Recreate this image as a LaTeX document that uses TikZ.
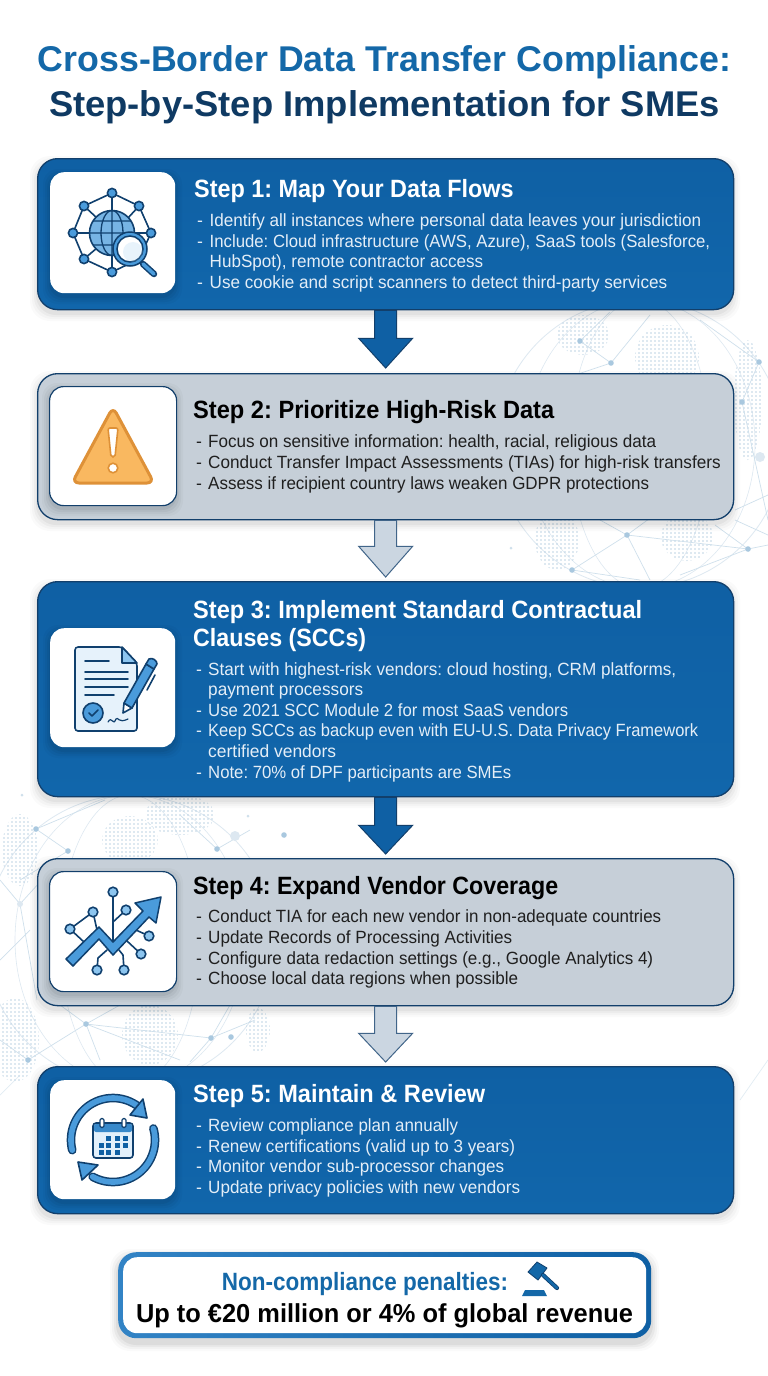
\documentclass[tikz,border=0pt]{standalone}
\usepackage{graphicx}
\usepackage{fontspec}
\setmainfont{Liberation Sans}
\frenchspacing
\usetikzlibrary{calc}
\definecolor{navy}{HTML}{123F6B}
\definecolor{blueP}{HTML}{0F60A4}
\definecolor{blueQ}{HTML}{1166AB}
\definecolor{greyP}{HTML}{C6CFD8}
\definecolor{greyA}{HTML}{CBD6E1}
\definecolor{titleA}{HTML}{1468A8}
\definecolor{titleB}{HTML}{0F3A63}
\definecolor{bodyL}{HTML}{E4EEF7}
\definecolor{iconB}{HTML}{4A9BDB}
\definecolor{iconL}{HTML}{8CC5EF}
\definecolor{iconD}{HTML}{10406E}
\definecolor{bgL}{HTML}{DDE8F1}
\definecolor{bgD}{HTML}{BDD3E4}
\definecolor{bgM}{HTML}{CFE0EC}
\definecolor{bgN}{HTML}{A9C8DF}
\definecolor{warnF}{HTML}{F9B860}
\definecolor{warnD}{HTML}{DE9138}
\tikzset{
  panelblue/.style={draw=navy,line width=1.3pt,rounded corners=20pt,top color=blueP,bottom color=blueQ,inner sep=0pt,anchor=north west},
  panelgrey/.style={draw=navy,line width=1.3pt,rounded corners=20pt,fill=greyP,inner sep=0pt,anchor=north west},
  iconbox/.style={fill=white,rounded corners=14pt,inner sep=0pt,anchor=north west},
  headw/.style={anchor=base west,inner sep=0pt,text=white,font=\fontsize{25}{30}\selectfont\bfseries},
  headk/.style={anchor=base west,inner sep=0pt,text=black,font=\fontsize{25}{30}\selectfont\bfseries},
  bodyw/.style={anchor=base west,inner sep=0pt,text=bodyL,font=\fontsize{17.7}{20}\selectfont},
  bodyk/.style={anchor=base west,inner sep=0pt,text=black!88,font=\fontsize{17.7}{20}\selectfont},
  arrowblue/.style={draw=navy,line width=1pt,fill=blueP,line join=miter},
  arrowgrey/.style={draw=navy!80,line width=1pt,fill=greyA,line join=miter},
  netline/.style={draw=bgM,line width=.7pt},
  ico/.style={draw=iconD,line width=1.6pt,line join=round,line cap=round},
}
\newcommand{\fitw}[2]{\resizebox{#1pt}{\height}{#2}}
\newcommand{\softshadow}[4]{%
  \foreach \s/\o in {7/.02,5/.025,3/.03,1/.04}{
    \fill[black,opacity=\o,rounded corners=20pt] (#1-\s,#2-\s+5) rectangle ++(#3+2*\s,#4+2*\s);
  }}
\newcommand{\dotpatch}[4]{%
  \begin{scope}
    \clip (#1,#2) ellipse [x radius=#3,y radius=#4];
    \pgfmathtruncatemacro{\nx}{#3/4+1}
    \pgfmathtruncatemacro{\ny}{#4/4+1}
    \foreach \i in {-\nx,...,\nx}{\foreach \j in {-\ny,...,\ny}{
      \fill[bgD] ({#1+\i*4},{#2+\j*4}) circle (.85);
    }}
  \end{scope}}
\newcommand{\netnode}[2]{\fill[bgN] (#1,#2) circle (2.8);}
\newcommand{\arcplot}[3]{%
  plot[domain=#1:#2,samples=40] ({113+#3*cos(\x)},{1140-#3*sin(\x)})}
\begin{document}
\begin{tikzpicture}[x=1pt,y=-1pt]
\useasboundingbox (0,0) rectangle (768,1376);
\fill[white] (0,0) rectangle (768,1376);
% background globes
\begin{scope}
  \clip (0,0) rectangle (768,1376);
  \draw[bgL,line width=.8pt] (640,444) circle (144);
  \draw[bgL,line width=.6pt] (640,444) ellipse [x radius=70,y radius=144];
  \draw[bgL,line width=.6pt] (640,444) ellipse [x radius=115,y radius=144];
  \dotpatch{667}{357}{32}{32}
  \dotpatch{583}{335}{26}{20}
  \dotpatch{748}{400}{14}{60}
  \dotpatch{687}{537}{26}{24}
  \dotpatch{557}{540}{22}{30}
  \draw[netline] (580,341)--(611,363)--(530,390) (611,363)--(650,315) (759,362)--(742,402)--(768,520)
     (580,341)--(610,312) (759,362)--(700,320) (627,535)--(572,570)--(640,580) (627,535)--(748,549)--(768,545)
     (627,535)--(650,580) (627,535)--(600,520) (627,535)--(668,505) (748,549)--(680,575) (735,510)--(768,495) (735,520)--(768,535) (748,549)--(715,525);
  \foreach \x/\y in {580/341,611/363,759/362,742/402,627/535,748/549,572/570}{\netnode{\x}{\y}}
  \fill[bgL] (760,457) circle (5);
  \fill[bgM] (511,548) circle (1.5);

  \draw[bgL,line width=.8pt] (130,940) circle (145);
  \draw[bgL,line width=.6pt] (130,940) ellipse [x radius=70,y radius=145];
  \draw[bgL,line width=.6pt] (130,940) ellipse [x radius=115,y radius=145];
  \dotpatch{130}{840}{28}{24}
  \dotpatch{20}{850}{18}{36}
  \dotpatch{180}{815}{35}{20}
  \dotpatch{150}{1035}{28}{30}
  \dotpatch{15}{1040}{24}{42}
  \dotpatch{258}{1030}{12}{22}
  \draw[netline] (36,829)--(68,851)--(20,880) (36,829)--(105,800) (217,849)--(180,815) (217,849)--(250,830)
     (20,904)--(60,860) (20,904)--(0,880) (20,904)--(37,1000) (0,960)--(30,930) (86,1024)--(28,1060)--(0,1040)
     (86,1024)--(211,1038)--(255,1020) (86,1024)--(100,1060) (86,1024)--(60,1005) (86,1024)--(120,1005)
     (211,1038)--(190,1062) (211,1038)--(230,1005) (86,1024)--(180,1060);
  \foreach \x/\y in {36/829,68/851,217/849,86/1024,211/1038,28/1060,284/835,231/1037}{\netnode{\x}{\y}}
  \fill[bgL] (20,904) circle (3); \fill[bgM] (22,795) circle (1.5); \fill[bgM] (248,816) circle (1.5);
  \fill[bgL] (235,836) circle (5);
  \draw[netline,opacity=.6] (0,1095)--(20,1075) (740,1100)--(768,1060);
\end{scope}

% title
\node[anchor=base,inner sep=0pt,text=titleA,font=\fontsize{35.8}{40}\selectfont\bfseries] (titleone) at (384.5,71) {\fitw{693}{Cross-Border Data Transfer Compliance:}};
\node[anchor=base,inner sep=0pt,text=titleB,font=\fontsize{35.8}{40}\selectfont\bfseries] (titletwo) at (384.5,116) {\fitw{671}{Step-by-Step Implementation for SMEs}};

% shadows
\softshadow{37}{158}{696}{151}
\softshadow{37}{373}{696}{146}
\softshadow{37}{581}{696}{215}
\softshadow{37}{858}{696}{147}
\softshadow{37}{1066}{696}{147}

% panels
\node[panelblue,minimum width=696pt,minimum height=151pt] (p1) at (37,158) {};
\node[panelgrey,minimum width=696pt,minimum height=146pt] (p2) at (37,373) {};
\node[panelblue,minimum width=696pt,minimum height=215pt] (p3) at (37,581) {};
\node[panelgrey,minimum width=696pt,minimum height=147pt] (p4) at (37,858) {};
\node[panelblue,minimum width=696pt,minimum height=147pt] (p5) at (37,1066) {};

% block arrows
\draw[arrowblue] ($(p1.south)+(-11,0)$) -- ++(0,28) -- ++(-16,0) -- ($(p2.north)+(0,-5)$) -- ($(p1.south)+(27,28)$) -- ++(-16,0) -- ($(p1.south)+(11,0)$) -- cycle;
\draw[arrowgrey] ($(p2.south)+(-11,0)$) -- ++(0,26) -- ++(-16,0) -- ($(p3.north)+(0,-4)$) -- ($(p2.south)+(27,26)$) -- ++(-16,0) -- ($(p2.south)+(11,0)$) -- cycle;
\draw[arrowblue] ($(p3.south)+(-11,0)$) -- ++(0,28) -- ++(-16,0) -- ($(p4.north)+(0,-4)$) -- ($(p3.south)+(27,28)$) -- ++(-16,0) -- ($(p3.south)+(11,0)$) -- cycle;
\draw[arrowgrey] ($(p4.south)+(-11,0)$) -- ++(0,27) -- ++(-16,0) -- ($(p5.north)+(0,-4)$) -- ($(p4.south)+(27,27)$) -- ++(-16,0) -- ($(p4.south)+(11,0)$) -- cycle;

% icon-box shadows
\foreach \x/\y/\w/\h in {50/172/125/121,49/386/127/119,50/628/125/119,49/871/127/120,50/1080/125/119}{
  \foreach \s/\o in {7/.025,5/.03,3/.04,1/.05}{
    \fill[black,opacity=\o,rounded corners=15pt] (\x-\s,\y-\s+4) rectangle ++(\w+2*\s,\h+2*\s);
  }}
% icon boxes
\node[iconbox,minimum width=125pt,minimum height=121pt] (b1) at (50,172) {};
\node[iconbox,draw=navy,line width=1.2pt,minimum width=127pt,minimum height=119pt] (b2) at (49,386) {};
\node[iconbox,minimum width=125pt,minimum height=119pt] (b3) at (50,628) {};
\node[iconbox,draw=navy,line width=1.2pt,minimum width=127pt,minimum height=120pt] (b4) at (49,871) {};
\node[iconbox,minimum width=125pt,minimum height=119pt] (b5) at (50,1080) {};

% icon 1: globe network
\draw[ico] (112,193)--(139,206)--(151,233)--(139,259)--(112,272)--(84,259)--(73,233)--(84,206)--cycle;
\draw[ico] (112,193)--(112,272) (73,233)--(151,233) (84,206)--(97,218) (139,206)--(128,218) (84,259)--(97,248);
\draw[ico,fill=iconB!75!white] (112,233) circle (22.5);
\draw[draw=iconD,line width=1.3pt] (112,233) ellipse [x radius=11,y radius=22.5] (112,210.5)--(112,255.5) (89.5,233)--(134.5,233) (93,221)--(131,221) (93,245)--(131,245);
\foreach \x/\y in {112/193,84/206,139/206,73/233,151/233,84/259,112/272}{\draw[ico,fill=iconB] (\x,\y) circle (4.6);}
\draw[draw=iconD,line width=6.5pt,line cap=round] (143,264)--(154,274);
\draw[draw=iconB,line width=3.5pt,line cap=round] (143,264)--(154,274);
\draw[draw=iconD,line width=1.5pt,fill=iconB] (130,249) circle (17);
\draw[draw=iconD,line width=1.5pt,fill=white] (130,249) circle (13);
\fill[iconL,opacity=.2] (133,252) circle (10);

% icon 2: warning
\draw[draw=warnD,line width=3pt,fill=warnF,line join=round,rounded corners=7pt] (113,407)--(154,483)--(72,483)--cycle;
\fill[white,draw=warnD,line width=1.6pt,rounded corners=2pt] (108,428)--(118,428)--(115,457)--(111,457)--cycle;
\draw[draw=warnD,fill=white,line width=1.6pt] (113,468) circle (4.8);

% icon 3: document + pen
\draw[ico,fill=iconL!22!white,rounded corners=3pt] (75,647) -- (122,647) -- (137,663) -- (137,731) -- (75,731) -- cycle;
\draw[ico,fill=iconL] (122,647)--(122,663)--(137,663)--cycle;
\draw[ico] (85,661)--(109,661) (85,672)--(128,672) (85,679)--(128,679) (85,687)--(128,687) (85,695)--(114,695);
\draw[ico,fill=iconB] (93,713) circle (10);
\draw[draw=iconD,line width=1.6pt,line cap=round,line join=round] (89,713)--(92,716)--(98,710);
\draw[draw=iconD,line width=1.2pt,line cap=round] (108,722) .. controls (112,715) and (113,727) .. (116,719) .. controls (118,716) and (118,724) .. (128,719);
\draw[ico,fill=white] (123,713)--(124,703)--(132,708)--cycle;
\draw[ico,fill=iconB] (124,703)--(146,664)--(154,669)--(132,708)--cycle;
\draw[ico,fill=iconB] (146,664)--(149,659) to[bend left=60] (157,664)--(154,669)--cycle;
\draw[ico] (155,675)--(147,690);

% icon 4: network growth
\draw[ico] (113,892)--(113,942) (126,910)--(113,922) (93,912)--(70,929)--(84,942) (93,912)--(97,930)
  (149,936)--(136,930) (141,954)--(127,941) (124,970)--(123,955)--(119,950) (97,970)--(98,958)--(107,950);
\draw[draw=iconD,line width=1.5pt,fill=iconB,line join=round] (66,959)--(99,927)--(113,942)--(143,911)--(135,903)--(161,897)--(156,923)--(149,917)--(113,955)--(99,939)--(73,966)--cycle;
\foreach \x/\y in {113/892,93/912,126/910,70/929,149/936,141/954,124/970,97/970}{\draw[ico,fill=iconL] (\x,\y) circle (4.8);}

% icon 5: cycle + calendar
\draw[draw=iconD,line width=8.6pt,line cap=round] \arcplot{194}{51}{42};
\draw[draw=iconD,line width=8.6pt,line cap=round] \arcplot{16}{-119}{42};
\draw[draw=iconB,line width=5.6pt,line cap=round] \arcplot{194}{51}{42};
\draw[draw=iconB,line width=5.6pt,line cap=round] \arcplot{16}{-119}{42};
\draw[ico,fill=iconB] (147,1118)--(143,1099)--(130,1115)--cycle;
\draw[ico,fill=iconB] (78,1162)--(82,1180)--(98,1165)--cycle;
\draw[ico,fill=iconL!25!white,rounded corners=3pt] (93,1123) rectangle (133,1158);
\fill[iconB!70!blueP,rounded corners=2pt] (94,1124) rectangle (132,1132);
\draw[ico,fill=white,line width=1.2pt,rounded corners=1.5pt] (100,1118.5) rectangle (104,1127.5);
\draw[ico,fill=white,line width=1.2pt,rounded corners=1.5pt] (122,1118.5) rectangle (126,1127.5);
\foreach \x/\y in {108/1138,117/1138,125/1138,101/1145,108/1145,117/1145,125/1145,101/1152,108/1152,117/1152}{
  \fill[blueP] (\x-2.5,\y-2.5) rectangle ++(5,5);
}

% step 1 text
\node[headw] (h1) at (194,197) {\fitw{319.5}{Step 1: Map Your Data Flows}};
\node[bodyw] (d11) at (197,226) {-};
\node[bodyw] (t11) at (209.5,226) {\fitw{491.5}{Identify all instances where personal data leaves your jurisdiction}};
\node[bodyw] (d12) at (197,247) {-};
\node[bodyw] (t12) at (209.5,247) {\fitw{500.5}{Include: Cloud infrastructure (AWS, Azure), SaaS tools (Salesforce,}};
\node[bodyw] (t13) at (209.5,267.5) {\fitw{273.5}{HubSpot), remote contractor access}};
\node[bodyw] (d14) at (197,288) {-};
\node[bodyw] (t14) at (209.5,288) {\fitw{457.5}{Use cookie and script scanners to detect third-party services}};
% step 2 text
\node[headk] (h2) at (193,418) {\fitw{361}{Step 2: Prioritize High-Risk Data}};
\node[bodyk] (d21) at (196,447) {-};
\node[bodyk] (t21) at (208,447) {\fitw{448}{Focus on sensitive information: health, racial, religious data}};
\node[bodyk] (d22) at (196,468) {-};
\node[bodyk] (t22) at (208,468) {\fitw{512.5}{Conduct Transfer Impact Assessments (TIAs) for high-risk transfers}};
\node[bodyk] (d23) at (196,489) {-};
\node[bodyk] (t23) at (208,489) {\fitw{441}{Assess if recipient country laws weaken GDPR protections}};
% step 3 text
\node[headw] (h3a) at (193,618) {\fitw{449}{Step 3: Implement Standard Contractual}};
\node[headw] (h3b) at (193,646.5) {\fitw{173}{Clauses (SCCs)}};
\node[bodyw] (d31) at (196,675) {-};
\node[bodyw] (t31) at (208,675) {\fitw{468}{Start with highest-risk vendors: cloud hosting, CRM platforms,}};
\node[bodyw] (t32) at (208,695.5) {\fitw{155}{payment processors}};
\node[bodyw] (d33) at (196,716) {-};
\node[bodyw] (t33) at (208,716) {\fitw{360}{Use 2021 SCC Module 2 for most SaaS vendors}};
\node[bodyw] (d34) at (196,736.5) {-};
\node[bodyw] (t34) at (208,736.5) {\fitw{490}{Keep SCCs as backup even with EU-U.S. Data Privacy Framework}};
\node[bodyw] (t35) at (208,757) {\fitw{128}{certified vendors}};
\node[bodyw] (d36) at (196,778) {-};
\node[bodyw] (t36) at (208,778) {\fitw{303}{Note: 70\% of DPF participants are SMEs}};
% step 4 text
\node[headk] (h4) at (193,894) {\fitw{365}{Step 4: Expand Vendor Coverage}};
\node[bodyk] (d41) at (196,922.7) {-};
\node[bodyk] (t41) at (208,922.7) {\fitw{453}{Conduct TIA for each new vendor in non-adequate countries}};
\node[bodyk] (d42) at (196,943) {-};
\node[bodyk] (t42) at (208,943) {\fitw{304}{Update Records of Processing Activities}};
\node[bodyk] (d43) at (196,964) {-};
\node[bodyk] (t43) at (208,964) {\fitw{445}{Configure data redaction settings (e.g., Google Analytics 4)}};
\node[bodyk] (d44) at (196,984.7) {-};
\node[bodyk] (t44) at (208,984.7) {\fitw{310}{Choose local data regions when possible}};
% step 5 text
\node[headw] (h5) at (193,1102.7) {\fitw{292}{Step 5: Maintain \& Review}};
\node[bodyw] (d51) at (196,1131.7) {-};
\node[bodyw] (t51) at (208,1131.7) {\fitw{250}{Review compliance plan annually}};
\node[bodyw] (d52) at (196,1152) {-};
\node[bodyw] (t52) at (208,1152) {\fitw{307}{Renew certifications (valid up to 3 years)}};
\node[bodyw] (d53) at (196,1172.7) {-};
\node[bodyw] (t53) at (208,1172.7) {\fitw{296}{Monitor vendor sub-processor changes}};
\node[bodyw] (d54) at (196,1193) {-};
\node[bodyw] (t54) at (208,1193) {\fitw{312}{Update privacy policies with new vendors}};

% penalty box
\foreach \s/\o in {8/.02,6/.03,4/.04,2/.05}{
  \fill[black,opacity=\o,rounded corners=20pt] (118-\s,1252-\s+5) rectangle ++(533+2*\s,86+2*\s);
}
\node[anchor=north west,inner sep=0pt,rounded corners=18pt,minimum width=533pt,minimum height=86pt,left color=iconB!60!blueP,right color=blueP] (pen) at (118,1252) {};
\node[anchor=center,inner sep=0pt,rounded corners=14pt,minimum width=523pt,minimum height=76pt,fill=white] (peni) at (pen.center) {};
\node[anchor=base,inner sep=0pt,text=titleA,font=\fontsize{25}{30}\selectfont\bfseries] (penA) at (365,1290) {\fitw{286}{Non-compliance penalties:}};
\node[anchor=base,inner sep=0pt,text=black,font=\fontsize{26}{30}\selectfont\bfseries] (penB) at (384.5,1322) {\fitw{497}{Up to €20 million or 4\% of global revenue}};
% gavel
\draw[iconD,line width=.8pt,fill=titleA,line join=round] (528,1272)--(537,1262)--(547,1268)--(538,1280)--cycle;
\draw[iconD,line width=4.2pt,line cap=round] (543,1275)--(557,1288);
\draw[titleA,line width=2.6pt,line cap=round] (543,1275)--(557,1288);
\fill[titleA] (522,1296)--(547,1296)--(544,1290)--(525,1290)--cycle;
\end{tikzpicture}
\end{document}
